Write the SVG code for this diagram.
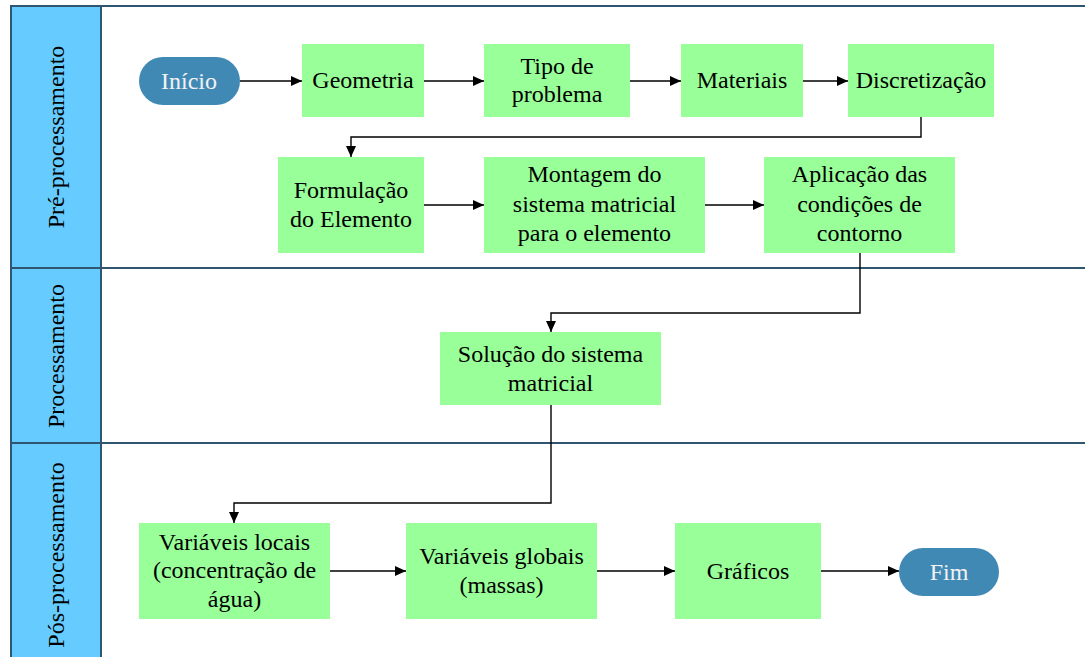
<svg xmlns="http://www.w3.org/2000/svg" width="1085" height="657" viewBox="0 0 1085 657" font-family="Liberation Serif, DejaVu Serif, serif">
<style>
.lane{fill:#fff;stroke:#2F5570;stroke-width:2}
.hdr{fill:#66CCFF;stroke:#2F5570;stroke-width:2}
text{font-size:24px;text-anchor:middle;fill:#000}
.tw{fill:#F2F2F2}
.box{fill:#99FF99;stroke:none}
.term{fill:#4189B5;stroke:none}
.c{fill:none;stroke:#000;stroke-width:1.4;marker-end:url(#ah)}
</style>
<defs>
<marker id="ah" markerUnits="userSpaceOnUse" markerWidth="12" markerHeight="10" refX="11" refY="5" orient="auto">
<path d="M0,0 L11,5 L0,10 Z" fill="#000"/>
</marker>
</defs>
<rect width="1085" height="657" fill="#fff"/>
<g id="lanes">
<rect class="lane" x="11" y="6" width="1090" height="262"/>
<rect class="lane" x="11" y="268" width="1090" height="175"/>
<rect class="lane" x="11" y="443" width="1090" height="230"/>
<rect class="hdr" x="11" y="6" width="90" height="262"/>
<rect class="hdr" x="11" y="268" width="90" height="175"/>
<rect class="hdr" x="11" y="443" width="90" height="230"/>
<text font-family="Liberation Serif, serif" transform="translate(56,137) rotate(-90)" dy="8">Pré-processamento</text>
<text font-family="Liberation Serif, serif" transform="translate(56,356) rotate(-90)" dy="8">Processamento</text>
<text font-family="Liberation Serif, serif" transform="translate(56,555) rotate(-90)" dy="8">Pós-processamento</text>
</g>
<g id="connectors">
<path class="c" d="M240,81 H302"/>
<path class="c" d="M424,81 H484"/>
<path class="c" d="M630,81 H681"/>
<path class="c" d="M803,81 H848"/>
<path class="c" d="M921,117 V137 H351 V157"/>
<path class="c" d="M424,205 H484"/>
<path class="c" d="M705,205 H764"/>
<path class="c" d="M860,253 V313 H551 V332"/>
<path class="c" d="M551,405 V503 H234 V523"/>
<path class="c" d="M330,571 H406"/>
<path class="c" d="M597,571 H675"/>
<path class="c" d="M821,571 H899"/>
</g>
<g id="inicio">
<rect class="term" x="139" y="57" width="101" height="48" rx="24" ry="24"/>
<text class="tw" x="189" y="89">Início</text>
</g>
<g id="geometria">
<rect class="box" x="302" y="44" width="122" height="73"/>
<text x="363" y="88">Geometria</text>
</g>
<g id="tipo">
<rect class="box" x="484" y="44" width="146" height="73"/>
<text x="557" y="74">Tipo de</text>
<text x="557" y="102">problema</text>
</g>
<g id="materiais">
<rect class="box" x="681" y="44" width="122" height="73"/>
<text x="742" y="88">Materiais</text>
</g>
<g id="discretizacao">
<rect class="box" x="848" y="44" width="146" height="73"/>
<text x="921" y="88">Discretização</text>
</g>
<g id="formulacao">
<rect class="box" x="278" y="157" width="146" height="96"/>
<text x="351" y="198">Formulação</text>
<text x="351" y="227">do Elemento</text>
</g>
<g id="montagem">
<rect class="box" x="484" y="157" width="221" height="96"/>
<text x="594.5" y="182">Montagem do</text>
<text x="594.5" y="212">sistema matricial</text>
<text x="594.5" y="241">para o elemento</text>
</g>
<g id="aplicacao">
<rect class="box" x="764" y="157" width="191" height="96"/>
<text x="859.5" y="182">Aplicação das</text>
<text x="859.5" y="212">condições de</text>
<text x="859.5" y="241">contorno</text>
</g>
<g id="solucao">
<rect class="box" x="440" y="332" width="221" height="73"/>
<text x="550.5" y="362">Solução do sistema</text>
<text x="550.5" y="391">matricial</text>
</g>
<g id="locais">
<rect class="box" x="139" y="523" width="191" height="96"/>
<text x="234.5" y="550">Variáveis locais</text>
<text x="234.5" y="578">(concentração de</text>
<text x="234.5" y="607">água)</text>
</g>
<g id="globais">
<rect class="box" x="406" y="523" width="191" height="96"/>
<text x="501.5" y="564">Variáveis globais</text>
<text x="501.5" y="593">(massas)</text>
</g>
<g id="graficos">
<rect class="box" x="675" y="523" width="146" height="96"/>
<text x="748" y="579">Gráficos</text>
</g>
<g id="fim">
<rect class="term" x="899" y="548" width="100" height="48" rx="24" ry="24"/>
<text class="tw" x="949" y="580">Fim</text>
</g>
</svg>
